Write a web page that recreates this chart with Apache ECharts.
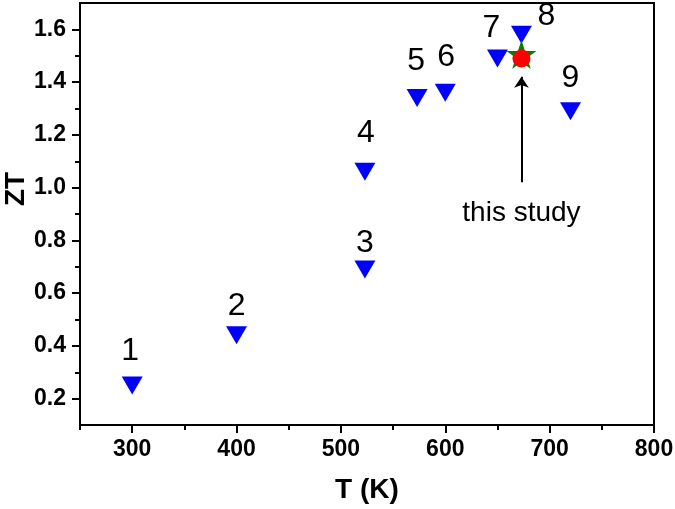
<!DOCTYPE html>
<html>
<head>
<meta charset="utf-8">
<script src="https://cdn.jsdelivr.net/npm/echarts@6/dist/echarts.min.js"></script>
<style>
  html, body { margin: 0; padding: 0; background: #fff; }
  #chart { width: 675px; height: 509px; }
</style>
</head>
<body>
<div id="chart"></div>
<script>
// literature values (T in K, ZT)
const refTemps = [300, 400, 523, 523, 573, 600, 650, 673, 720];
const refZT = [0.25, 0.44, 0.69, 1.06, 1.34, 1.36, 1.49, 1.58, 1.29];
const refLabels = ['1', '2', '3', '4', '5', '6', '7', '8', '9'];

// this study
const studyTemp = [673];
const studyZT = [1.49];
const studyText = 'this study';
const arrowZT = [1.02, 1.42];

const xMajorTicks = [300, 400, 500, 600, 700, 800];
const xMinorTicks = [250, 350, 450, 550, 650, 750];
const yMajorTicks = [0.2, 0.4, 0.6, 0.8, 1.0, 1.2, 1.4, 1.6];
const yMinorTicks = [0.3, 0.5, 0.7, 0.9, 1.1, 1.3, 1.5];

// where each number sits relative to its marker
const labelOffsets = [[-2, -34], [0, -29], [0, -26], [1, -39], [-1, -37], [1, -36], [-6, -30], [25, -18], [0, -33]];

const FONT = '"Liberation Sans", Arial, sans-serif';
const STAR = 'path://M0,-10L2.245,-3.09L9.511,-3.09L3.633,1.18L5.878,8.09L0,3.82L-5.878,8.09L-3.633,1.18L-9.511,-3.09L-2.245,-3.09Z';

const chart = echarts.init(document.getElementById('chart'));

const xBase = {
  type: 'value', min: 250, max: 800, interval: 50,
  position: 'bottom',
  splitLine: {show: false}
};
const yBase = {
  type: 'value', min: 0.1, max: 1.7, interval: 0.1,
  position: 'left',
  splitLine: {show: false}
};

chart.setOption({
  animation: false,
  backgroundColor: '#fff',
  grid: {
    left: 80, right: 21, top: 3, bottom: 84,
    outerBoundsMode: 'none',
    containLabel: false,
    show: true, borderColor: '#000', borderWidth: 2
  },
  xAxis: [
    Object.assign({}, xBase, {
      name: 'T (K)',
      nameLocation: 'middle',
      nameGap: 51,
      nameMoveOverlap: false,
      nameTextStyle: {fontFamily: FONT, fontWeight: 'bold', fontSize: 28, color: '#000'},
      axisLine: {lineStyle: {color: '#000', width: 2}},
      axisTick: {show: true, length: 8, customValues: xMajorTicks, lineStyle: {color: '#000', width: 2}},
      axisLabel: {customValues: xMajorTicks, margin: 13, fontFamily: FONT, fontWeight: 'bold', fontSize: 23, color: '#000'}
    }),
    Object.assign({}, xBase, {
      axisLine: {show: false},
      axisTick: {show: true, length: 5, customValues: xMinorTicks, lineStyle: {color: '#000', width: 2}},
      axisLabel: {show: false}
    })
  ],
  yAxis: [
    Object.assign({}, yBase, {
      name: 'ZT',
      nameLocation: 'middle',
      nameGap: 50,
      nameMoveOverlap: false,
      nameTextStyle: {fontFamily: FONT, fontWeight: 'bold', fontSize: 28, color: '#000', padding: [0, 0, 0, 50]},
      axisLine: {show: true, lineStyle: {color: '#000', width: 2}},
      axisTick: {show: true, length: 8, customValues: yMajorTicks, lineStyle: {color: '#000', width: 2}},
      axisLabel: {
        customValues: yMajorTicks, margin: 14,
        formatter: v => v.toFixed(1),
        fontFamily: FONT, fontWeight: 'bold', fontSize: 23, color: '#000'
      }
    }),
    Object.assign({}, yBase, {
      axisLine: {show: false},
      axisTick: {show: true, length: 5, customValues: yMinorTicks, lineStyle: {color: '#000', width: 2}},
      axisLabel: {show: false}
    })
  ],
  series: [
    {
      type: 'scatter',
      symbol: 'triangle',
      symbolRotate: 180,
      symbolSize: [21, 18],
      itemStyle: {color: '#0000FF', opacity: 1},
      data: refTemps.map((t, i) => ({
        value: [t, refZT[i]],
        label: {offset: labelOffsets[i]}
      })),
      label: {
        show: true,
        position: 'inside',
        formatter: p => refLabels[p.dataIndex],
        fontFamily: FONT, fontSize: 32, color: '#000'
      },
      z: 2
    },
    {
      type: 'scatter',
      symbol: STAR,
      symbolSize: [30, 29],
      symbolOffset: [0, -4],
      itemStyle: {color: '#008000', opacity: 1},
      data: studyTemp.map((t, i) => [t, studyZT[i]]),
      z: 3
    },
    {
      type: 'scatter',
      symbol: 'circle',
      symbolSize: 18,
      itemStyle: {color: '#FF0000', opacity: 1},
      data: studyTemp.map((t, i) => [t, studyZT[i]]),
      markLine: {
        silent: true,
        symbol: ['none', 'arrow'],
        symbolSize: 11,
        lineStyle: {color: '#000', width: 2, type: 'solid', opacity: 1},
        label: {
          show: true,
          position: 'start',
          distance: 17,
          formatter: studyText,
          fontFamily: FONT, fontSize: 28, color: '#000'
        },
        data: [[
          {coord: [studyTemp[0], arrowZT[0]]},
          {coord: [studyTemp[0], arrowZT[1]]}
        ]]
      },
      z: 4
    }
  ]
});
</script>
</body>
</html>
